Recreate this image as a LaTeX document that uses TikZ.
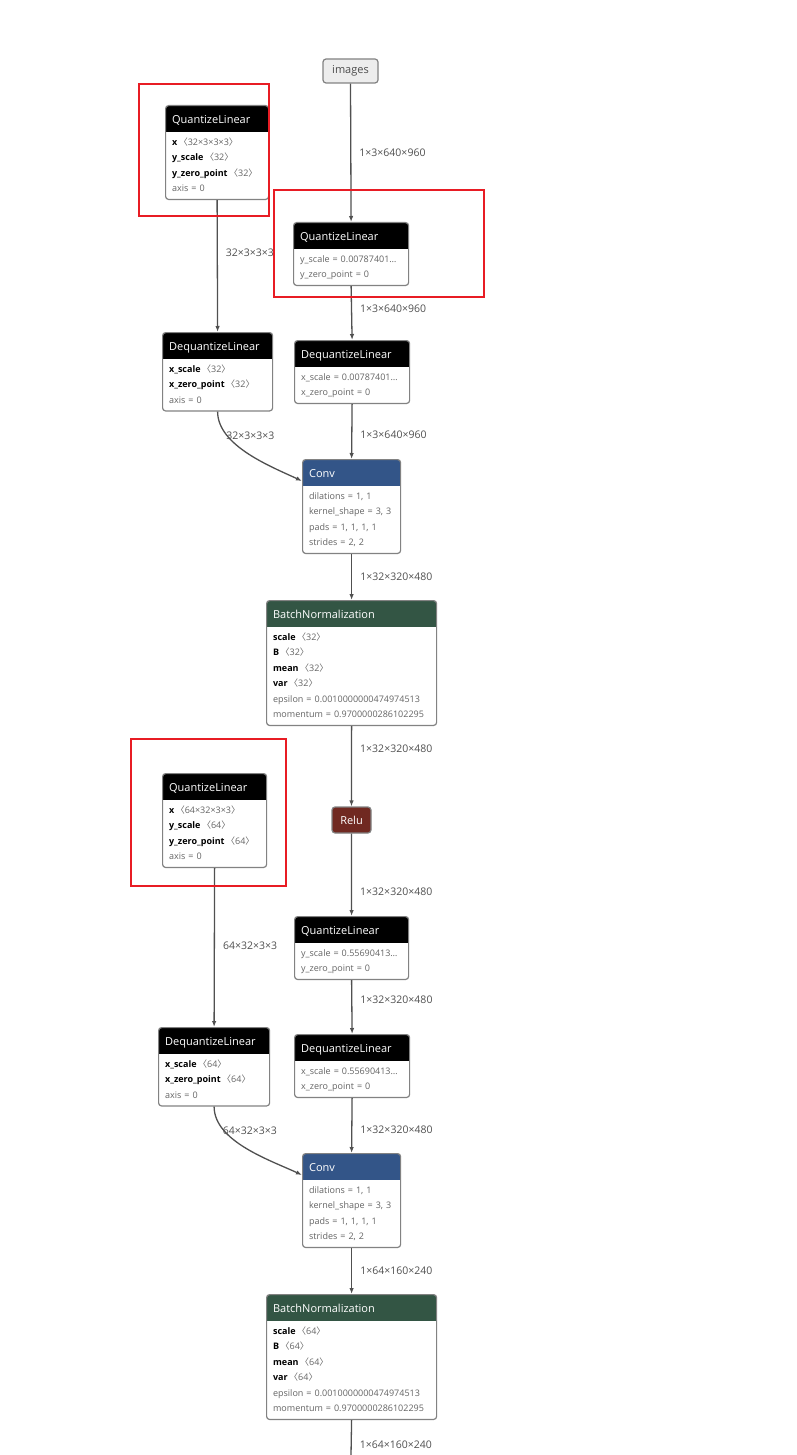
\documentclass[tikz,border=0pt]{standalone}
\usepackage{fontspec}
\setmainfont{Open Sans}
\newfontfamily\cjkfont{Noto Sans CJK SC}
\usetikzlibrary{arrows.meta, positioning}

\definecolor{layerblue}{RGB}{51,85,136}
\definecolor{normgreen}{RGB}{51,85,68}
\definecolor{actred}{RGB}{112,41,33}
\definecolor{edgegray}{RGB}{80,80,80}
\definecolor{framegray}{RGB}{130,130,130}
\definecolor{attrgray}{RGB}{100,100,100}
\definecolor{markred}{RGB}{232,28,36}

\newcommand{\optitle}[1]{\rule[-8.5pt]{0pt}{26pt}{\fontsize{11}{13}\selectfont\color{white}#1}\\[2pt]}
\newcommand{\tensorrow}[2]{\textcolor{black}{\textbf{#1}}\,{\cjkfont 〈}#2{\cjkfont 〉}\strut}
\newcommand{\attrrow}[1]{#1\strut}
\newcommand{\rowend}{\rule[-7.5pt]{0pt}{7.5pt}}

\tikzset{
  op/.style 2 args={draw=framegray, line width=1.2pt, rounded corners=3pt, fill=white,
    anchor=north west, inner xsep=6.5pt, inner ysep=0pt, align=left, text width=#2pt,
    font=\fontsize{9}{15.5}\selectfont, text=attrgray,
    path picture={\fill[#1, sharp corners] (path picture bounding box.north west)
      rectangle ([yshift=-26pt]path picture bounding box.north east);}},
  inputnode/.style={draw=framegray, line width=1.2pt, rounded corners=3pt, fill=black!7,
    text=black!70, minimum width=55pt, minimum height=24pt, inner sep=0pt,
    font=\fontsize{11}{13}\selectfont},
  actnode/.style={draw=framegray, line width=1.2pt, rounded corners=3pt, fill=actred,
    text=white, minimum width=39pt, minimum height=26pt, inner sep=0pt,
    font=\fontsize{11}{13}\selectfont},
  flow/.style={draw=edgegray, line width=1.3pt, -{Latex[length=6pt,width=4.5pt]}},
  dims/.style={font=\fontsize{10.5}{12}\selectfont, text=edgegray, inner sep=1pt,
    anchor=west, xshift=7pt},
  redframe/.style={draw=markred, line width=2pt},
}

\begin{document}
\begin{tikzpicture}[x=1pt, y=1pt]
  \useasboundingbox (0,0) rectangle (797,-1455);
  \node[inputnode] (images) at (350.5,-71) {images};
  % first conv block
  \node[op={black}{90}] (qlw1) at (165,-105) {\optitle{QuantizeLinear}%
    \tensorrow{x}{32×3×3×3}\\\tensorrow{y\_scale}{32}\\%
    \tensorrow{y\_zero\_point}{32}\\\attrrow{axis = 0}\rowend};
  \node[op={black}{102}] (qli1) at (293,-222) {\optitle{QuantizeLinear}%
    \attrrow{y\_scale = 0.00787401…}\\\attrrow{y\_zero\_point = 0}\rowend};
  \node[op={black}{97}] (dqlw1) at (162,-332) {\optitle{DequantizeLinear}%
    \tensorrow{x\_scale}{32}\\\tensorrow{x\_zero\_point}{32}\\\attrrow{axis = 0}\rowend};
  \node[op={black}{102}] (dqli1) at (294,-340) {\optitle{DequantizeLinear}%
    \attrrow{x\_scale = 0.00787401…}\\\attrrow{x\_zero\_point = 0}\rowend};
  \node[op={layerblue}{85}] (conv1) at (302,-459) {\optitle{Conv}%
    \attrrow{dilations = 1, 1}\\\attrrow{kernel\_shape = 3, 3}\\%
    \attrrow{pads = 1, 1, 1, 1}\\\attrrow{strides = 2, 2}\rowend};
  \node[op={normgreen}{157}] (bn1) at (266,-600) {\optitle{BatchNormalization}%
    \tensorrow{scale}{32}\\\tensorrow{B}{32}\\\tensorrow{mean}{32}\\\tensorrow{var}{32}\\%
    \attrrow{epsilon = 0.0010000000474974513}\\\attrrow{momentum = 0.9700000286102295}\rowend};
  \node[actnode] (relu1) at (351.5,-820) {Relu};
  % second conv block
  \node[op={black}{91}] (qlw2) at (162,-773) {\optitle{QuantizeLinear}%
    \tensorrow{x}{64×32×3×3}\\\tensorrow{y\_scale}{64}\\%
    \tensorrow{y\_zero\_point}{64}\\\attrrow{axis = 0}\rowend};
  \node[op={black}{101}] (qli2) at (294,-916) {\optitle{QuantizeLinear}%
    \attrrow{y\_scale = 0.55690413…}\\\attrrow{y\_zero\_point = 0}\rowend};
  \node[op={black}{98}] (dqlw2) at (158,-1027) {\optitle{DequantizeLinear}%
    \tensorrow{x\_scale}{64}\\\tensorrow{x\_zero\_point}{64}\\\attrrow{axis = 0}\rowend};
  \node[op={black}{102}] (dqli2) at (294,-1034) {\optitle{DequantizeLinear}%
    \attrrow{x\_scale = 0.55690413…}\\\attrrow{x\_zero\_point = 0}\rowend};
  \node[op={layerblue}{85}] (conv2) at (302,-1153) {\optitle{Conv}%
    \attrrow{dilations = 1, 1}\\\attrrow{kernel\_shape = 3, 3}\\%
    \attrrow{pads = 1, 1, 1, 1}\\\attrrow{strides = 2, 2}\rowend};
  \node[op={normgreen}{157}] (bn2) at (266,-1294) {\optitle{BatchNormalization}%
    \tensorrow{scale}{64}\\\tensorrow{B}{64}\\\tensorrow{mean}{64}\\\tensorrow{var}{64}\\%
    \attrrow{epsilon = 0.0010000000474974513}\\\attrrow{momentum = 0.9700000286102295}\rowend};
  \coordinate (tail) at (351,-1455);

  \draw[flow] (images.south) -- node[dims, pos=.5] {1×3×640×960} (qli1.north);
  \draw[flow] (qli1.south) -- node[dims, pos=.42] {1×3×640×960} (dqli1.north);
  \draw[flow] (dqli1.south) -- node[dims, pos=.56] {1×3×640×960} (conv1.north);
  \draw[flow] (qlw1.south) -- node[dims, pos=.4] {32×3×3×3} (dqlw1.north);
  \draw[flow] (dqlw1.south) to[out=-90, in=155, looseness=.8]
    node[dims, at start, yshift=-24pt] {32×3×3×3} ([yshift=-22pt]conv1.north west);
  \draw[flow] (conv1.south) -- node[dims, pos=.5] {1×32×320×480} (bn1.north);
  \draw[flow] (bn1.south) -- node[dims, pos=.28] {1×32×320×480} (relu1.north);
  \draw[flow] (relu1.south) -- node[dims, pos=.7] {1×32×320×480} (qli2.north);
  \draw[flow] (qli2.south) -- node[dims, pos=.36] {1×32×320×480} (dqli2.north);
  \draw[flow] (dqli2.south) -- node[dims, pos=.57] {1×32×320×480} (conv2.north);
  \draw[flow] (qlw2.south) -- node[dims, pos=.49] {64×32×3×3} (dqlw2.north);
  \draw[flow] (dqlw2.south) to[out=-90, in=155, looseness=.8]
    node[dims, at start, yshift=-24pt] {64×32×3×3} ([yshift=-22pt]conv2.north west);
  \draw[flow] (conv2.south) -- node[dims, pos=.5] {1×64×160×240} (bn2.north);
  \draw[draw=edgegray, line width=1.3pt] (bn2.south) -- node[dims, pos=.71] {1×64×160×240} (tail);

  % highlighted nodes
  \draw[redframe] (139,-84) rectangle (269,-216);
  \draw[redframe] (274,-190) rectangle (484,-297);
  \draw[redframe] (131,-739) rectangle (286,-886);
\end{tikzpicture}
\end{document}
